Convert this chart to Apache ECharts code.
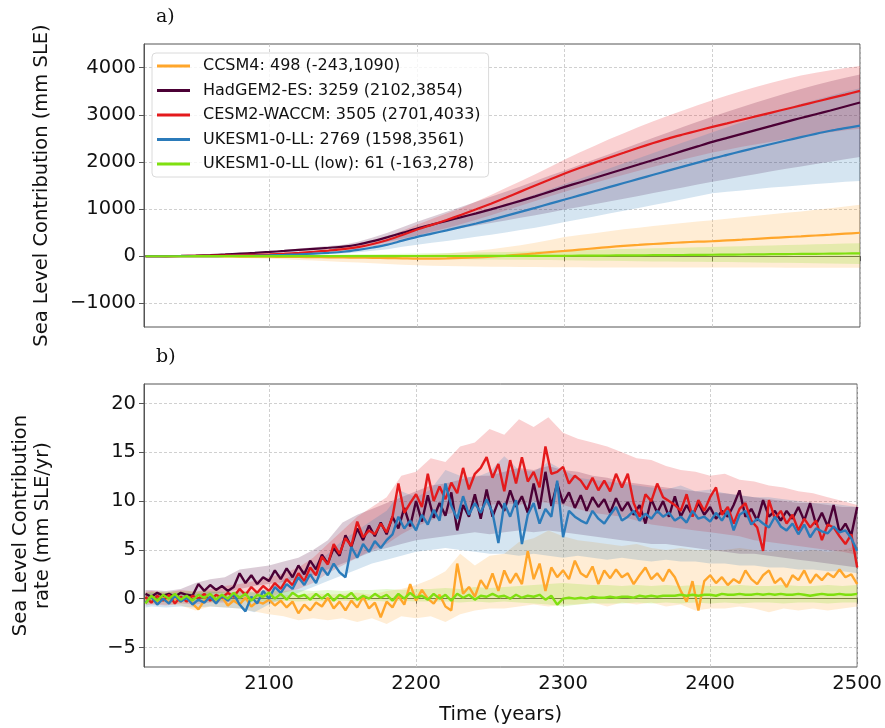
<!DOCTYPE html>
<html><head><meta charset="utf-8">
<script src="https://cdn.jsdelivr.net/npm/echarts/dist/echarts.min.js"></script>
<style>html,body{margin:0;padding:0;background:#fff}#c{width:885px;height:728px}</style>
</head><body><div id="c"></div>
<script>
const modelNames = ['CCSM4: 498 (-243,1090)','HadGEM2-ES: 3259 (2102,3854)','CESM2-WACCM: 3505 (2701,4033)','UKESM1-0-LL: 2769 (1598,3561)','UKESM1-0-LL (low): 61 (-163,278)'];
const modelColors = ['#ffa62b','#4b0035','#e41a1c','#2b7bba','#7fe00f'];

// tick labels
const xTicks = [2100, 2200, 2300, 2400, 2500];
const yTicksA = [-1000, 0, 1000, 2000, 3000, 4000];
const yTicksB = [-5, 0, 5, 10, 15, 20];

// x grids
const bandYears = [2016]; for (let y = 2020; y <= 2500; y += 10) bandYears.push(y);
const rateYears = []; for (let y = 2016; y <= 2500; y += 4) rateYears.push(y);

// ---- panel a: cumulative (mm SLE) ----
const cumCCSM4 = [0,0,-1,-2,-3,-4,-5,-6,-8,-10, -13,-16,-19,-22,-26,-30,-34,-39,-44,-50, -50,-45,-35,-25,-10,10,35,60,88,113, 140,168,195,220,240,260,278,295,308,318, 335,352,370,388,405,422,440,458,478,498];
const cumCCSM4Lo = [0,-2,-5,-10,-15,-20,-28,-36,-45,-55, -65,-78,-90,-105,-120,-135,-150,-165,-178,-190, -200,-208,-214,-218,-222,-225,-228,-230,-232,-234, -235,-236,-237,-238,-238,-239,-239,-240,-240,-240, -240,-241,-241,-241,-242,-242,-242,-243,-243,-243];
const cumCCSM4Hi = [0,1,2,3,4,5,6,7,8,8, 8,8,8,9,10,11,12,14,18,25, 40,60,85,115,150,190,235,285,345,410, 450,490,530,570,605,640,675,705,735,763, 795,827,860,890,920,950,985,1020,1055,1090];

const cumHad = [0,1,4,8,14,24,38,55,72,91, 112,135,158,180,205,250,320,405,495,587, 670,750,830,910,995,1085,1175,1270,1370,1470, 1565,1660,1755,1850,1945,2040,2135,2235,2330,2424, 2510,2595,2680,2765,2850,2930,3010,3090,3175,3259];
const cumHadLo = [0,0,3,6,11,19,30,44,58,74, 90,108,126,144,164,195,245,305,370,435, 490,545,600,650,705,760,815,870,930,990, 1045,1100,1160,1220,1280,1340,1400,1460,1520,1580, 1635,1690,1745,1800,1855,1905,1955,2005,2055,2102];
const cumHadHi = [0,1,5,10,17,29,46,66,86,108, 134,162,190,216,246,305,395,500,615,730, 840,945,1050,1155,1260,1370,1480,1595,1710,1820, 1935,2050,2165,2280,2395,2510,2625,2740,2850,2960, 3065,3165,3265,3360,3455,3545,3630,3710,3785,3854];

const cumCESM = [0,0,2,5,8,12,17,24,32,42, 55,72,95,120,150,195,260,345,450,566, 665,770,880,995,1115,1240,1370,1500,1628,1753, 1870,1980,2090,2195,2300,2400,2495,2580,2662,2742, 2818,2894,2970,3046,3122,3198,3275,3352,3428,3505];
const cumCESMLo = [0,0,1,3,5,8,11,16,22,30, 40,54,72,93,118,152,200,265,345,440, 520,600,685,775,870,970,1070,1170,1270,1370, 1465,1555,1645,1730,1815,1895,1975,2050,2125,2200, 2260,2320,2375,2430,2485,2535,2585,2630,2670,2701];
const cumCESMHi = [0,1,3,7,11,16,23,32,43,56, 72,93,120,150,185,240,320,420,540,670, 790,905,1025,1160,1300,1445,1590,1740,1890,2050, 2200,2340,2480,2610,2740,2860,2980,3090,3200,3307, 3410,3505,3595,3680,3760,3830,3890,3945,3990,4033];

const cumUK = [0,0,0,1,2,3,5,8,12,19, 28,40,55,72,95,135,185,245,330,410, 480,550,622,695,772,855,940,1025,1115,1202, 1290,1378,1465,1552,1640,1728,1815,1900,1985,2071, 2150,2228,2305,2380,2453,2525,2595,2660,2715,2769];
const cumUKLo = [0,0,0,0,1,2,3,5,8,12, 18,26,35,46,60,85,115,150,200,245, 285,325,368,412,458,505,555,605,665,728, 785,845,905,965,1025,1085,1145,1210,1270,1335, 1365,1395,1425,1455,1480,1505,1530,1555,1578,1598];
const cumUKHi = [0,0,1,2,3,5,8,12,17,26, 38,55,76,100,135,190,260,345,460,560, 650,740,830,920,1010,1110,1210,1310,1420,1530, 1640,1750,1860,1970,2080,2190,2300,2410,2520,2630, 2735,2840,2940,3040,3135,3230,3320,3405,3485,3561];

const cumUKlow = [0,0,0,0,1,1,1,2,2,3, 3,3,3,4,4,4,4,4,5,5, 5,5,5,6,6,6,7,7,8,10, 12,14,16,18,20,22,25,27,30,32, 35,37,40,43,46,49,52,55,58,61];
const cumUKlowLo = [0,-1,-2,-4,-6,-8,-10,-12,-15,-18, -21,-24,-27,-30,-34,-38,-42,-46,-50,-55, -58,-61,-64,-67,-70,-73,-76,-79,-82,-85, -89,-93,-97,-101,-105,-109,-112,-115,-118,-120, -124,-128,-132,-136,-140,-144,-148,-152,-158,-163];
const cumUKlowHi = [0,1,2,4,6,8,10,12,15,18, 21,24,28,32,36,40,45,50,55,60, 65,70,75,80,86,92,98,105,115,127, 133,140,147,154,161,168,175,182,190,197, 205,213,221,229,237,245,253,261,270,278];

// ---- panel b: rates (mm SLE/yr), every 4 years ----
const rateCCSM4 = [-0.2,0.1,-0.3,0.2,-0.4,0.0,-0.3,0.2,-0.5,-1.1,
 -0.2,0.1,-0.4,0.2,-0.7,-0.2,-0.6,0.1,-0.8,-0.3,
 -0.5,-0.1,-0.7,-0.2,-0.9,-0.3,-1.5,-0.6,-1.2,-0.4,
 -0.8,0.1,-1.0,-0.3,-1.2,-0.2,-0.9,0.2,-1.0,-0.4,
 -1.9,-0.3,-0.9,0.3,-0.6,1.5,-0.2,0.9,0.0,-0.5,
 0.4,-0.8,-1.2,3.6,0.5,1.2,0.2,1.9,1.0,2.6,
 0.8,2.9,1.6,2.6,1.5,4.9,2.0,3.6,0.8,3.2,
 2.2,2.9,2.0,3.9,2.6,2.2,3.3,1.5,2.9,2.1,
 3.0,2.2,2.6,1.5,2.4,3.2,2.0,2.6,1.8,3.0,
 2.2,0.8,-0.3,1.8,-1.2,1.8,2.4,1.6,2.2,1.4,
 2.0,1.6,2.9,2.0,1.5,2.4,2.9,1.6,2.1,1.2,
 2.4,1.9,2.9,1.6,2.5,1.9,2.6,2.2,3.0,2.2,
 2.5,1.5];
const rateHad = [0.5,0.2,0.6,0.3,0.5,0.2,0.6,0.4,0.3,1.5,
 0.8,1.4,0.9,1.3,0.8,1.2,2.6,1.6,2.4,1.5,
 2.2,1.8,2.9,2.0,3.1,2.2,3.4,2.5,3.9,3.0,
 4.5,3.6,5.2,4.4,6.5,5.3,7.2,6.0,7.5,6.4,
 7.8,6.6,8.4,7.2,9.3,7.4,10.0,7.9,10.6,8.3,
 9.8,8.5,10.9,7.0,9.6,8.4,10.7,8.2,11.2,8.4,
 10.0,9.0,11.1,9.4,10.5,8.8,11.8,9.2,13.0,9.5,
 11.8,9.8,10.9,9.3,10.6,9.0,10.4,9.4,10.2,8.8,
 10.3,9.0,9.9,8.6,9.6,7.7,10.2,8.8,10.0,8.4,
 10.5,8.4,9.6,8.5,9.8,8.6,9.4,8.2,9.0,8.4,
 9.6,11.1,8.4,9.2,8.0,10.1,8.4,9.0,8.0,9.0,
 8.2,9.4,8.0,9.8,7.6,8.8,7.4,9.6,6.8,7.7,
 6.5,9.4];
const rateCESM = [0.2,-0.4,0.3,-0.2,0.4,-0.5,0.2,-0.3,0.3,0.0,
 0.5,-0.2,0.4,0.1,0.6,0.2,1.0,0.4,1.2,0.6,
 1.3,0.8,1.6,1.0,2.0,1.4,2.6,1.8,3.2,2.4,
 4.3,3.5,5.6,4.6,6.2,5.4,7.9,6.3,7.0,6.6,
 7.7,6.8,8.4,11.8,8.8,9.8,10.7,9.4,12.8,10.0,
 11.5,10.2,11.9,10.8,13.4,11.2,12.8,13.4,14.5,12.4,
 13.8,11.0,14.2,11.8,14.5,12.0,13.0,11.4,15.6,12.8,
 13.0,13.5,11.8,12.6,12.1,11.2,12.4,11.1,12.1,11.0,
 12.8,11.4,12.8,9.8,8.4,10.7,10.0,11.8,10.4,10.0,
 9.6,9.0,10.7,8.4,10.1,9.0,10.4,11.4,8.6,9.4,
 7.7,9.2,9.8,8.0,7.3,4.9,10.1,8.2,9.0,7.7,
 8.6,7.0,8.2,7.3,8.0,6.0,7.6,7.3,6.4,5.6,
 6.6,3.2];
const rateUK = [-0.4,0.2,-0.6,0.0,-0.5,0.3,-0.3,0.1,-0.6,-0.1,
 -0.4,0.2,-0.5,0.3,-0.2,0.5,-0.6,-1.3,0.2,-0.5,
 0.8,0.0,1.2,0.6,1.5,1.0,2.2,1.4,2.5,1.6,
 3.2,2.4,3.6,2.7,2.2,5.3,4.2,5.6,4.8,5.9,
 5.2,6.0,6.6,8.4,7.2,8.0,7.0,8.6,7.6,9.1,
 8.0,11.8,9.5,8.2,10.5,8.6,9.8,8.8,10.2,8.8,
 5.7,9.8,8.4,10.1,5.6,8.6,9.8,7.7,9.2,8.4,
 12.1,6.3,9.0,8.4,8.0,7.7,9.0,8.2,7.7,8.6,
 9.4,8.0,8.4,9.0,8.0,8.7,8.2,9.0,8.4,8.8,
 8.0,8.4,7.8,9.0,8.2,8.4,7.9,8.8,8.0,9.0,
 7.0,8.6,9.0,7.6,8.2,7.7,7.3,8.4,7.4,7.0,
 7.7,6.6,7.6,6.3,7.2,6.9,6.7,7.4,6.8,7.0,
 6.2,4.9];
const rateUKlow = [-0.5,0.3,-0.2,0.4,0.0,0.5,-0.1,0.3,-0.2,0.4,
 0.1,0.5,-0.1,0.4,0.0,0.6,0.1,0.5,-0.2,0.4,
 0.2,0.6,0.0,0.5,-0.1,0.6,0.2,0.4,-0.1,0.5,
 0.0,0.5,-0.2,0.4,0.1,0.6,-0.1,0.3,0.0,0.5,
 0.1,0.4,-0.2,0.5,0.0,0.6,0.1,0.3,-0.1,0.5,
 0.0,0.4,-0.2,0.5,0.1,0.4,-0.1,0.3,0.2,0.5,
 0.2,0.3,0.0,0.4,0.1,0.3,0.2,0.4,-0.1,0.3,
 -0.6,0.0,0.1,0.0,0.1,0.0,0.2,0.1,0.1,0.2,
 0.1,0.2,0.2,0.1,0.3,0.2,0.3,0.2,0.3,0.3,
 0.3,0.4,0.3,0.4,0.3,0.4,0.4,0.3,0.5,0.4,
 0.4,0.5,0.4,0.4,0.5,0.4,0.5,0.4,0.5,0.4,
 0.4,0.5,0.4,0.3,0.4,0.5,0.4,0.4,0.5,0.4,
 0.4,0.5];

// rate bands (every 10 years)
const rateCCSM4Lo = [-0.5,-0.5,-0.6,-0.7,-1.2,-0.8,-0.9,-1.0,-1.3,-1.6, -1.8,-2.2,-2.0,-2.2,-2.0,-2.4,-2.0,-2.6,-1.8,-2.0, -1.8,-2.4,-1.6,-1.2,-1.0,-1.0,-0.8,-0.6,-0.8,-0.6, -0.6,-0.4,-0.8,-0.4,-0.6,-0.4,-0.8,-0.6,-1.2,-1.0, -1.0,-0.8,-1.0,-1.4,-1.0,-1.2,-1.0,-1.2,-1.0,-0.8];
const rateCCSM4Hi = [0.3,0.3,0.2,0.3,0.1,0.4,0.3,0.4,0.2,0.3, 0.4,0.3,0.6,0.4,0.5,0.6,0.4,0.8,1.0,1.4, 2.0,2.8,4.6,3.4,4.4,4.6,5.8,6.2,7.0,6.4, 6.0,5.8,5.6,5.4,5.6,5.2,5.0,5.2,5.0,5.0, 5.0,5.2,5.0,4.8,5.0,4.8,5.0,4.8,5.0,5.4];
const rateHadLo = [-0.2,0.0,-0.1,0.0,0.2,0.5,0.6,1.0,1.3,1.5, 1.7,2.0,2.4,3.0,3.6,4.2,4.8,5.2,5.6,6.0, 6.2,6.4,6.6,6.8,6.6,6.8,7.0,6.8,7.0,6.8, 6.6,6.4,6.2,6.0,5.8,5.6,5.6,5.4,5.2,5.0, 4.8,4.6,4.6,4.4,4.2,4.0,3.8,3.6,3.4,3.2];
const rateHadHi = [0.9,0.9,0.8,1.0,1.6,2.0,2.2,3.0,3.2,3.4, 3.8,4.2,5.0,6.0,7.8,8.6,9.2,9.8,10.4,11.0, 11.6,11.8,12.2,12.6,12.6,13.0,13.4,13.2,13.6,13.2, 13.0,12.6,12.4,12.0,11.8,11.6,11.4,11.2,11.0,10.8, 10.8,10.6,10.4,10.2,10.0,9.8,9.8,9.6,9.4,9.4];
const rateCESMLo = [-0.7,-0.6,-0.7,-0.5,-0.6,-0.4,-0.4,-0.2,0.0,0.2, 0.6,1.0,1.6,2.6,3.4,4.2,5.0,5.6,6.6,7.4, 8.0,8.6,9.0,9.4,9.6,9.8,9.6,10.0,9.8,9.6, 9.2,8.8,8.6,8.4,8.0,7.6,7.4,7.2,7.0,6.8, 6.6,6.4,6.0,5.8,5.6,5.4,5.2,5.0,4.8,4.5];
const rateCESMHi = [0.7,0.8,0.6,0.9,0.7,1.0,1.3,1.5,1.8,2.2, 2.6,3.2,4.2,5.6,7.0,8.4,9.4,10.4,12.6,13.0, 14.4,14.0,15.6,16.0,17.4,16.8,18.4,17.6,18.6,17.0, 16.4,16.0,15.6,15.0,14.4,14.2,13.6,13.2,13.0,12.6, 12.8,12.2,12.0,11.6,11.4,11.0,10.8,10.4,10.0,9.6];
const rateUKLo = [-0.9,-0.8,-0.9,-0.8,-0.9,-0.8,-0.9,-1.0,-1.4,-0.6, 0.0,0.6,1.2,1.8,2.4,3.0,3.6,4.0,4.4,4.8, 5.0,5.2,5.0,4.8,4.6,4.6,4.4,4.6,4.4,4.2, 4.4,4.2,4.0,4.2,4.0,3.8,4.0,3.8,3.8,3.6, 3.6,3.4,3.4,3.2,3.2,3.0,3.0,2.8,2.8,2.6];
const rateUKHi = [0.5,0.6,0.5,0.6,0.5,0.7,0.6,0.8,0.6,1.0, 2.0,2.6,3.4,4.6,6.0,7.0,8.0,9.0,11.0,10.4, 11.2,13.2,12.6,12.4,13.0,14.6,13.2,13.0,14.0,13.2, 12.4,12.2,12.0,11.8,11.6,11.4,11.2,11.6,11.0,11.2, 10.8,10.6,10.4,10.4,10.2,10.0,9.8,9.8,9.6,9.4];
const rateUKlowLo = [-0.5,-0.4,-0.3,-0.3,-0.2,-0.3,-0.2,-0.3,-0.2,-0.3, -0.2,-0.3,-0.2,-0.3,-0.2,-0.3,-0.2,-0.3,-0.2,-0.3, -0.3,-0.3,-0.4,-0.3,-0.4,-0.3,-0.4,-0.5,-0.6,-0.8, -0.6,-0.5,-0.5,-0.5,-0.4,-0.5,-0.4,-0.5,-0.4,-0.5, -0.4,-0.5,-0.4,-0.4,-0.5,-0.4,-0.4,-0.5,-0.4,-0.4];
const rateUKlowHi = [0.6,0.7,0.7,0.8,0.7,0.8,0.7,0.8,0.7,0.8, 0.8,0.9,0.8,0.9,0.8,0.9,0.9,1.0,0.9,1.0, 1.0,1.1,1.0,1.2,1.1,1.2,1.3,1.4,1.5,1.6, 1.5,1.4,1.4,1.3,1.4,1.3,1.4,1.3,1.4,1.3, 1.3,1.4,1.3,1.3,1.4,1.3,1.3,1.4,1.3,1.4];

const cumMed = [cumCCSM4, cumHad, cumCESM, cumUK, cumUKlow];
const cumLo = [cumCCSM4Lo, cumHadLo, cumCESMLo, cumUKLo, cumUKlowLo];
const cumHi = [cumCCSM4Hi, cumHadHi, cumCESMHi, cumUKHi, cumUKlowHi];
const rateMed = [rateCCSM4, rateHad, rateCESM, rateUK, rateUKlow];
const rateLo = [rateCCSM4Lo, rateHadLo, rateCESMLo, rateUKLo, rateUKlowLo];
const rateHi = [rateCCSM4Hi, rateHadHi, rateCESMHi, rateUKHi, rateUKlowHi];

const FONT = 'DejaVu Sans';
const TXT = '#111';
const minus = v => String(v).replace('-', '\u2212');

// band drawn as a polygon through the axis scales (api.coord)
function band(gi, years, lo, hi, color, id) {
  return {
    type:'custom', name:id, xAxisIndex:gi, yAxisIndex:gi, silent:true, z:1,
    data:[[years[0], lo[0]]],
    encode:{x:0, y:1},
    renderItem: function (params, api) {
      const pts = [];
      for (let i = 0; i < years.length; i++) pts.push(api.coord([years[i], hi[i]]));
      for (let i = years.length - 1; i >= 0; i--) pts.push(api.coord([years[i], lo[i]]));
      return {type:'polygon', shape:{points:pts}, style:{fill:color, opacity:0.2, stroke:null}};
    }
  };
}

const series = [];
for (let k = 0; k < 5; k++) {
  series.push(band(0, bandYears, cumLo[k], cumHi[k], modelColors[k], 'ca'+k));
  series.push(band(1, bandYears, rateLo[k], rateHi[k], modelColors[k], 'rb'+k));
}
for (let k = 0; k < 5; k++) {
  series.push({type:'line', name:modelNames[k], xAxisIndex:0, yAxisIndex:0, symbol:'none', smooth:0.3,
    z:3, lineStyle:{color:modelColors[k], width:2.2}, itemStyle:{color:modelColors[k]},
    data: bandYears.map((x,i)=>[x, cumMed[k][i]])});
}
for (let k = 0; k < 5; k++) {
  series.push({type:'line', name:'rate '+k, xAxisIndex:1, yAxisIndex:1, symbol:'none',
    z:3, lineStyle:{color:modelColors[k], width:2.4}, itemStyle:{color:modelColors[k]},
    data: rateYears.map((x,i)=>[x, rateMed[k][i]])});
}

const splitLine = {show:true, lineStyle:{color:'#c4c4c4', type:[3,2], width:0.8}};
const axisLine = {show:true, lineStyle:{color:'#555', width:1}};
function tick(vals) { return {show:true, inside:false, length:5, lineStyle:{color:'#555'}, customValues:vals}; }

function xAx(gi, showLabels) {
  return {type:'value', gridIndex:gi, min:2015, max:2500, splitNumber:5,
    axisLine, axisTick:tick(xTicks), splitLine,
    axisLabel:{show:showLabels, fontFamily:FONT, fontSize:19.5, color:TXT, margin:7,
      customValues:xTicks, formatter: v => String(v)},
    name: showLabels ? 'Time (years)' : '', nameLocation:'middle', nameGap:38,
    nameTextStyle:{fontFamily:FONT, fontSize:19.5, color:TXT}};
}

const option = {
  animation:false,
  backgroundColor:'#fff',
  title:[
    {text:'a)', left:151, top:3, textStyle:{fontFamily:'DejaVu Serif', fontSize:19, fontWeight:'normal', color:TXT}},
    {text:'b)', left:151, top:343, textStyle:{fontFamily:'DejaVu Serif', fontSize:19, fontWeight:'normal', color:TXT}}
  ],
  grid:[
    {left:144, right:25, top:44, height:283, show:true, borderColor:'#555', borderWidth:1, backgroundColor:'transparent'},
    {left:144, right:25, top:384, height:283, show:true, borderColor:'#555', borderWidth:1, backgroundColor:'transparent'}
  ],
  xAxis:[xAx(0,false), xAx(1,true)],
  yAxis:[
    {type:'value', gridIndex:0, min:-1500, max:4500, splitNumber:5, axisLine, axisTick:tick(yTicksA), splitLine,
      axisLabel:{fontFamily:FONT, fontSize:19.5, color:TXT, margin:8, customValues:yTicksA,
        formatter: v => minus(v)},
      name:'Sea Level Contribution (mm SLE)', nameLocation:'middle', nameGap:92,
      nameTextStyle:{fontFamily:FONT, fontSize:19.5, color:TXT}},
    {type:'value', gridIndex:1, min:-7, max:22, splitNumber:5, axisLine, axisTick:tick(yTicksB), splitLine,
      axisLabel:{fontFamily:FONT, fontSize:19.5, color:TXT, margin:8, customValues:yTicksB,
        formatter: v => minus(v)},
      name:'Sea Level Contribution\nrate (mm SLE/yr)', nameLocation:'middle', nameGap:90,
      nameTextStyle:{fontFamily:FONT, fontSize:19.5, color:TXT, lineHeight:22}}
  ],
  legend:{
    data: modelNames, orient:'vertical', left:152, top:53, selectedMode:false,
    icon:'rect', itemWidth:33, itemHeight:3, itemGap:4.5,
    padding:[3,8,3,5], borderColor:'#dadada', borderWidth:1, borderRadius:4,
    backgroundColor:'rgba(255,255,255,0.8)',
    textStyle:{fontFamily:FONT, fontSize:16, color:TXT, lineHeight:20, padding:[0,0,0,8]}
  },
  series: series
};

const chart = echarts.init(document.getElementById('c'), null, {renderer:'canvas'});
chart.setOption(option);
</script>
</body></html>
